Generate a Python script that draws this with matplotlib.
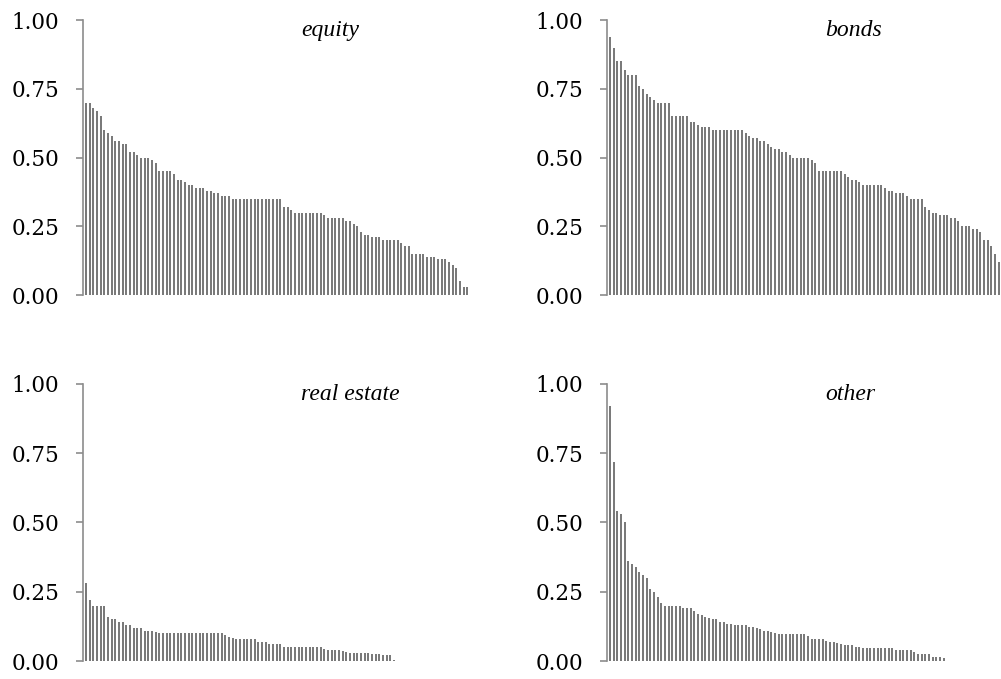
import matplotlib.pyplot as plt
import numpy as np

N_SLOTS = 108

equity = [
    0.70, 0.70, 0.68, 0.67, 0.65, 0.60, 0.59, 0.58, 0.56, 0.56,
    0.55, 0.55, 0.52, 0.52, 0.51, 0.50, 0.50, 0.50, 0.49, 0.48,
    0.45, 0.45, 0.45, 0.45, 0.44, 0.42, 0.42, 0.41, 0.40, 0.40,
    0.39, 0.39, 0.39, 0.38, 0.38, 0.37, 0.37, 0.36, 0.36, 0.36,
    0.35, 0.35, 0.35, 0.35, 0.35, 0.35, 0.35, 0.35, 0.35, 0.35,
    0.35, 0.35, 0.35, 0.35,
    0.32, 0.32, 0.31, 0.30, 0.30, 0.30, 0.30, 0.30, 0.30, 0.30,
    0.30, 0.29, 0.28, 0.28, 0.28, 0.28, 0.28, 0.27, 0.27, 0.26,
    0.25, 0.23, 0.22, 0.22, 0.21, 0.21, 0.21, 0.20, 0.20, 0.20,
    0.20, 0.20, 0.19, 0.18, 0.18, 0.15, 0.15, 0.15, 0.15, 0.14,
    0.14, 0.14, 0.13, 0.13, 0.13, 0.12, 0.11, 0.10, 0.05, 0.03,
    0.03,
]

bonds = [
    0.94, 0.90, 0.85, 0.85, 0.82, 0.80, 0.80, 0.80, 0.76, 0.75,
    0.73, 0.72, 0.71, 0.70, 0.70, 0.70, 0.70, 0.65, 0.65, 0.65,
    0.65, 0.65, 0.63, 0.63, 0.62, 0.61, 0.61, 0.61, 0.60, 0.60,
    0.60, 0.60, 0.60, 0.60, 0.60, 0.60, 0.60, 0.59, 0.58, 0.57,
    0.57, 0.56, 0.56, 0.55, 0.54, 0.53, 0.53, 0.52, 0.52, 0.51,
    0.50, 0.50, 0.50, 0.50, 0.50, 0.49, 0.48, 0.45, 0.45, 0.45,
    0.45, 0.45, 0.45, 0.45, 0.44, 0.43, 0.42, 0.42, 0.41, 0.40,
    0.40, 0.40, 0.40, 0.40, 0.40, 0.39, 0.38, 0.38, 0.37, 0.37,
    0.37, 0.36, 0.35, 0.35, 0.35, 0.35, 0.32, 0.31, 0.30, 0.30,
    0.29, 0.29, 0.29, 0.28, 0.28, 0.27, 0.25, 0.25, 0.25, 0.24,
    0.24, 0.23, 0.20, 0.20, 0.18, 0.15, 0.12,
]

real_estate = [
    0.28, 0.22, 0.20, 0.20, 0.20, 0.20, 0.16, 0.15, 0.15, 0.14,
    0.14, 0.13, 0.13, 0.12, 0.12, 0.12, 0.11, 0.11, 0.11, 0.105,
    0.10, 0.10, 0.10, 0.10, 0.10, 0.10, 0.10, 0.10, 0.10, 0.10,
    0.10, 0.10, 0.10, 0.10, 0.10, 0.10, 0.10, 0.10, 0.093, 0.087,
    0.083, 0.08, 0.08, 0.08, 0.08, 0.08, 0.08, 0.07, 0.07, 0.068,
    0.063, 0.06, 0.06, 0.06, 0.05, 0.05,
    0.05, 0.05, 0.05, 0.05, 0.05, 0.05, 0.05, 0.05, 0.05, 0.045,
    0.04, 0.04, 0.04, 0.04, 0.035, 0.033, 0.03, 0.03, 0.03, 0.03,
    0.03, 0.028, 0.027, 0.025, 0.025, 0.02, 0.02, 0.02, 0.005,
]

other = [
    0.92, 0.72, 0.54, 0.53, 0.50, 0.36, 0.35, 0.34, 0.32, 0.31,
    0.30, 0.26, 0.25, 0.23, 0.21, 0.20, 0.20, 0.20, 0.20, 0.20,
    0.19, 0.19, 0.19, 0.18, 0.17, 0.167, 0.16, 0.155, 0.15, 0.15,
    0.14, 0.14, 0.135, 0.133, 0.13, 0.13, 0.13, 0.13, 0.123, 0.123,
    0.12, 0.115, 0.11, 0.108, 0.105, 0.10, 0.097, 0.097, 0.097, 0.097,
    0.097, 0.097, 0.097, 0.097, 0.09,
    0.08, 0.078, 0.078, 0.078, 0.073, 0.068, 0.068, 0.065, 0.06, 0.057,
    0.057, 0.057, 0.052, 0.052, 0.047, 0.047, 0.047, 0.047, 0.047, 0.047,
    0.047, 0.047, 0.047, 0.04, 0.04, 0.04, 0.04, 0.04, 0.033, 0.027,
    0.027, 0.027, 0.027, 0.016, 0.016, 0.016, 0.012,
]

titles = ["equity", "bonds", "real estate", "other"]
series = [equity, bonds, real_estate, other]
yticks = [0.0, 0.25, 0.5, 0.75, 1.0]

fig = plt.figure(figsize=(10.01, 6.79), dpi=100)
rects = [
    [0.0829, 0.5655, 0.3956, 0.405],
    [0.6064, 0.5655, 0.3956, 0.405],
    [0.0829, 0.0265, 0.3956, 0.408],
    [0.6064, 0.0265, 0.3956, 0.408],
]

for rect, name, vals in zip(rects, titles, series):
    ax = fig.add_axes(rect)
    x = np.arange(len(vals))
    ax.bar(x, vals, width=0.55, color="#7a7a7a", linewidth=0)
    ax.set_xlim(-0.8, N_SLOTS - 0.8)
    ax.set_ylim(0, 1)
    ax.set_yticks(yticks)
    ax.set_yticklabels([f"{t:.2f}" for t in yticks], family="DejaVu Serif", fontsize=15.5)
    ax.set_xticks([])
    for s in ["top", "right", "bottom"]:
        ax.spines[s].set_visible(False)
    ax.spines["left"].set_color("#8c8c8c")
    ax.spines["left"].set_linewidth(1.2)
    ax.tick_params(axis="y", direction="out", length=5, width=1.2, color="#8c8c8c", pad=12, labelcolor="black")
    # panel name, italic, top right inside the axes
    ax.text(0.55, 0.962, name, transform=ax.transAxes, ha="left", va="center",
            family="Liberation Serif", style="italic", fontsize=17)

fig.savefig("out.png", dpi=100)
